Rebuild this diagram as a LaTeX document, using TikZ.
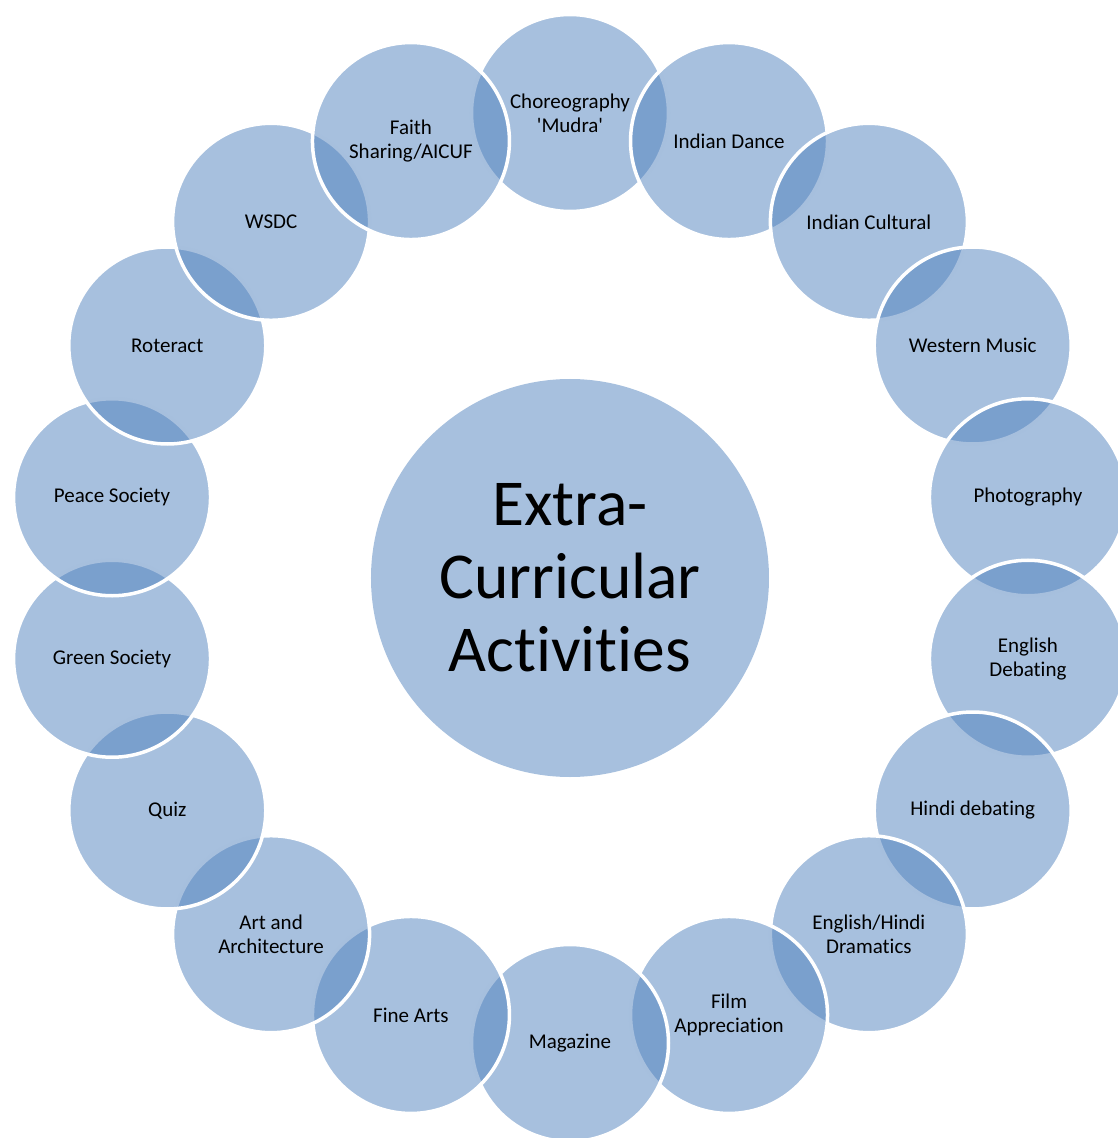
\documentclass[tikz,border=0pt]{standalone}
\usepackage{fontspec}
\setmainfont{Carlito}[Ligatures=NoCommon]
\definecolor{ringblue}{HTML}{4F81BD}
\begin{document}
\begin{tikzpicture}[x=1pt,y=1pt,
    hub/.style={circle,fill=ringblue,fill opacity=0.5,text opacity=1,minimum size=398pt,inner sep=0pt,align=center,font=\fontsize{65.5}{73}\selectfont},
    item/.style={circle,fill=ringblue,fill opacity=0.5,text opacity=1,draw=white,line width=3.5pt,minimum size=197pt,inner sep=0pt,align=center,font=\fontsize{21}{24}\selectfont}]
        \useasboundingbox (-570,-560) rectangle (548,578);
        \node[hub](hub)at(0,0){Extra-\\Curricular\\Activities};
        \foreach \a/\t [count=\i] in {90/{Choreography\\\textquotesingle Mudra\textquotesingle},70/Indian Dance,50/Indian Cultural,30/Western Music,10/Photography,-10/{English\\Debating},-30/Hindi debating,-50/{English/Hindi\\Dramatics},-70/{Film\\Appreciation},-90/Magazine,-110/Fine Arts,-130/{Art and\\Architecture},-150/Quiz,-170/Green Society,170/Peace Society,150/Roteract,130/WSDC,110/{Faith\\Sharing/AICUF}}
            \node[item](c\i)at(\a:465){\t};
    \end{tikzpicture}
\end{document}
